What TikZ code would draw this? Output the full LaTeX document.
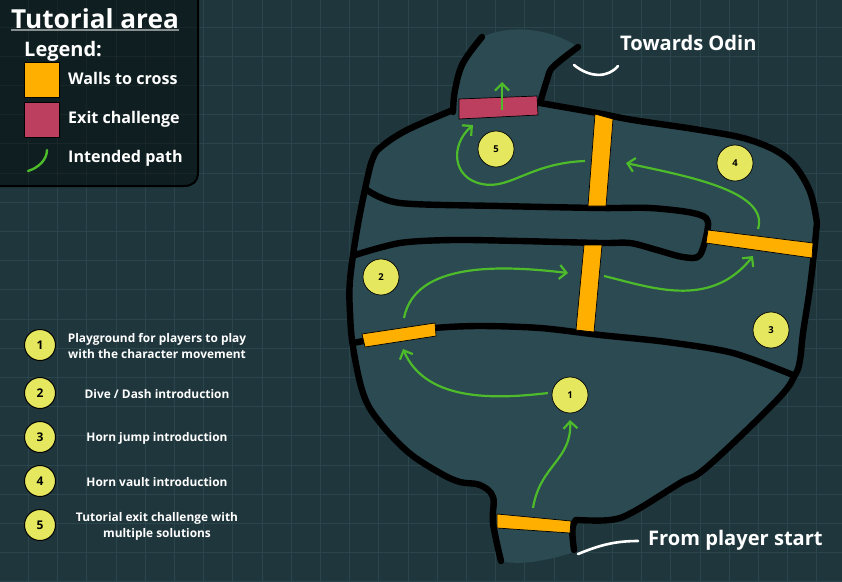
\documentclass[tikz,border=0pt]{standalone}
\usepackage{fontspec}
\setmainfont{Open Sans}
\usetikzlibrary{arrows.meta}
\definecolor{bgc}{HTML}{1F363C}
\definecolor{gridc}{HTML}{2A464C}
\definecolor{bodyc}{HTML}{2B4A52}
\definecolor{panelc}{HTML}{0F1E20}
\definecolor{orangec}{HTML}{FFAF00}
\definecolor{crimsonc}{HTML}{BC3F5F}
\definecolor{greenc}{HTML}{4DBB2A}
\definecolor{yellowc}{HTML}{E5E85F}
\tikzset{
  x=1pt,y=-1pt,
  wallline/.style={draw=black,line width=6.4pt,line cap=round,line join=round},
  gate/.style={draw=black,line width=0.7pt,fill=orangec},
  exitgate/.style={draw=black,line width=0.7pt,fill=crimsonc},
  pathline/.style={draw=greenc,line width=2.2pt,-{Straight Barb[length=7pt,width=14pt,line width=2.2pt]}},
  pointer/.style={draw=white,line width=2.6pt,line cap=round},
  mapdot/.style={circle,draw=black,line width=0.7pt,fill=yellowc,minimum size=36pt,inner sep=0pt,font=\bfseries\fontsize{9.5}{10}\selectfont,text=black},
  keydot/.style={circle,draw=black,line width=1pt,fill=yellowc,minimum size=31pt,inner sep=0pt,font=\bfseries\fontsize{12}{13}\selectfont,text=black},
  keytext/.style={text=white,align=center,inner sep=0pt,font=\bfseries\fontsize{11.9}{16}\selectfont},
  legtext/.style={text=white,anchor=west,inner sep=0pt,font=\bfseries\fontsize{16.1}{18}\selectfont},
  bigtext/.style={text=white,anchor=west,inner sep=0pt,font=\bfseries\fontsize{20.1}{22}\selectfont},
}
\begin{document}
\begin{tikzpicture}
\useasboundingbox (0,0) rectangle (842,581);
\fill[bgc] (0,0) rectangle (842,581);
\foreach \i in {0,...,28} \draw[gridc,line width=0.9pt] ({-0.7+29.2*\i},0) -- ({-0.7+29.2*\i},581);
\foreach \i in {0,...,19} \draw[gridc,line width=0.9pt] (0,{27+29.2*\i}) -- (842,{27+29.2*\i});

% body
\fill[bodyc] plot[smooth,tension=0.6] coordinates {(482,37)(463,63)(455,90)(453,110)}
 -- plot[smooth,tension=0.6] coordinates {(453,110)(407,130)(381,147)(373,158)(367,180)(357,230)(350,280)(350,313)(353,347)(363,393)(378,420)(408,452)(440,473)(460,482)(480,485)(493,497)(493,523)(501,561)}
 .. controls (520,566) and (550,560) .. (574,552)
 -- (572,521)
 -- plot[smooth,tension=0.6] coordinates {(572,521)(610,520)(633,512)(680,483)(707,467)(777,400)(795,375)(800,360)(803,333)(810,287)(816,233)(816,217)(808,187)(787,158)(750,140)(700,130)(633,120)(597,113)(540,103)}
 -- plot[smooth,tension=0.6] coordinates {(540,103)(547,80)(553,67)(578,47)}
 .. controls (550,28) and (510,24) .. (482,37) -- cycle;

% outer walls
\path[wallline] plot[smooth,tension=0.6] coordinates {(482,37)(463,63)(455,90)(453,112)};
\path[wallline] plot[smooth,tension=0.6] coordinates {(453,110)(407,130)(381,147)(373,158)(367,180)(357,230)(350,280)(350,313)(353,347)(363,393)(378,420)(408,452)(440,473)(460,482)(480,485)(493,497)(493,523)(501,561)};
\path[wallline] plot[smooth,tension=0.6] coordinates {(540,103)(597,113)(633,120)(700,130)(750,140)(787,158)(808,187)(816,217)(816,233)(810,287)(803,333)(800,360)(795,375)(777,400)(707,467)(680,483)(633,512)(610,520)(576,520)};
\path[wallline] (574,550) .. controls (572,535) and (571,525) .. (576,520);
\path[wallline] plot[smooth,tension=0.6] coordinates {(540,103)(547,80)(553,67)(578,47)};
% inner walls
\path[wallline] plot[smooth,tension=0.5] coordinates {(367,190)(400,203)(500,206)(600,208)(650,208)(693,213)(708,222)(700,255)(683,257)(657,250)(630,243)(600,243)(520,241)(453,240)(400,243)(355,255)};
\path[wallline] plot[smooth,tension=0.5] coordinates {(353,343)(400,334)(435,328)(480,326)(540,328)(600,335)(667,342)(733,353)(793,375)};

% gates
\path[gate] (595,114) -- (613,119) -- (606,206) -- (588,206) -- cycle;
\path[gate] (708,230) -- (813,243) -- (812,258) -- (706,243) -- cycle;
\path[gate] (584,245) -- (602,245) -- (594,332) -- (576,330) -- cycle;
\path[gate] (362,334) -- (435,323) -- (436,336) -- (365,347) -- cycle;
\path[gate] (497,514) -- (571,521) -- (570,533) -- (497,528) -- cycle;
\path[exitgate] (459,99) -- (537,96) -- (538,115) -- (459,119) -- cycle;

% map markers
\node[mapdot] (m1) at (570,395) {1};
\node[mapdot] (m2) at (381,277) {2};
\node[mapdot] (m3) at (771,330) {3};
\node[mapdot] (m4) at (735,163) {4};
\node[mapdot] (m5) at (496,149) {5};

% paths
\draw[pathline] (533,508) .. controls (540,465) and (572,460) .. (570,420);
\draw[pathline] (548,393) .. controls (490,400) and (425,400) .. (403,349);
\draw[pathline] (404,318) .. controls (415,262) and (500,265) .. (568,273);
\draw[pathline] (604,276) .. controls (650,287) and (710,310) .. (753,256);
\draw[pathline] (758,229) .. controls (770,190) and (680,175) .. (626,163);
\draw[pathline] (585,161) .. controls (530,163) and (510,190) .. (482,184) .. controls (452,178) and (450,145) .. (473,125);
\draw[pathline] (502,110) -- (502,82);

% pointers
\draw[pointer] (574,65) .. controls (590,78) and (608,78) .. (618,66);
\draw[pointer] (578,554) .. controls (600,545) and (615,541) .. (638,541);
\node[bigtext] (odin) at (620,43) {Towards Odin};
\node[bigtext] (start) at (648,540) {From player start};

% legend panel
\path[draw=black,fill=panelc,line width=2pt] (-2,-2) -- (198,-2) -- (198,172) .. controls (198,182) and (192,186) .. (184,186) -- (-2,186) -- cycle;
\begin{scope}
\clip (0,0) -- (197,0) -- (197,172) .. controls (197,181) and (191,185) .. (184,185) -- (0,185) -- cycle;
\foreach \i in {1,...,6} \draw[white,opacity=0.04,line width=0.9pt] ({-0.7+29.2*\i},0) -- ({-0.7+29.2*\i},186);
\foreach \i in {0,...,5} \draw[white,opacity=0.04,line width=0.9pt] (0,{27+29.2*\i}) -- (198,{27+29.2*\i});
\end{scope}
\node[text=white,anchor=base west,inner sep=0pt,font=\bfseries\fontsize{26.2}{28}\selectfont] (title) at (11,28) {Tutorial area};
\draw[white,opacity=0.5,line width=1.4pt] (11,30) -- (179,30);
\node[text=white,anchor=base west,inner sep=0pt,font=\bfseries\fontsize{20}{22}\selectfont] (leg) at (24,56) {Legend:};
\node[draw=black,fill=orangec,line width=1pt,minimum size=35pt,inner sep=0pt] (k1) at (41.5,79.5) {};
\node[draw=black,fill=crimsonc,line width=1pt,minimum size=35pt,inner sep=0pt] (k2) at (41.5,119.5) {};
\draw[greenc,line width=2.4pt,line cap=round] (47,150) .. controls (47,160) and (38,168) .. (28,171);
\node[legtext] (t1) at (68,78.5) {Walls to cross};
\node[legtext] (t2) at (68,119.5) {Exit challenge};
\node[legtext] (t3) at (68,158.5) {Intended path};

% key
\node[keydot] (d1) at (40,345) {1};
\node[keydot] (d2) at (40,393) {2};
\node[keydot] (d3) at (40,437) {3};
\node[keydot] (d4) at (40,481) {4};
\node[keydot] (d5) at (40,525) {5};
\node[keytext] (e1) at (157,346) {Playground for players to play\\with the character movement};
\node[keytext] (e2) at (157,394) {Dive / Dash introduction};
\node[keytext] (e3) at (157,438) {Horn jump introduction};
\node[keytext] (e4) at (157,482) {Horn vault introduction};
\node[keytext] (e5) at (157,526) {Tutorial exit challenge with\\multiple solutions};
\end{tikzpicture}
\end{document}
